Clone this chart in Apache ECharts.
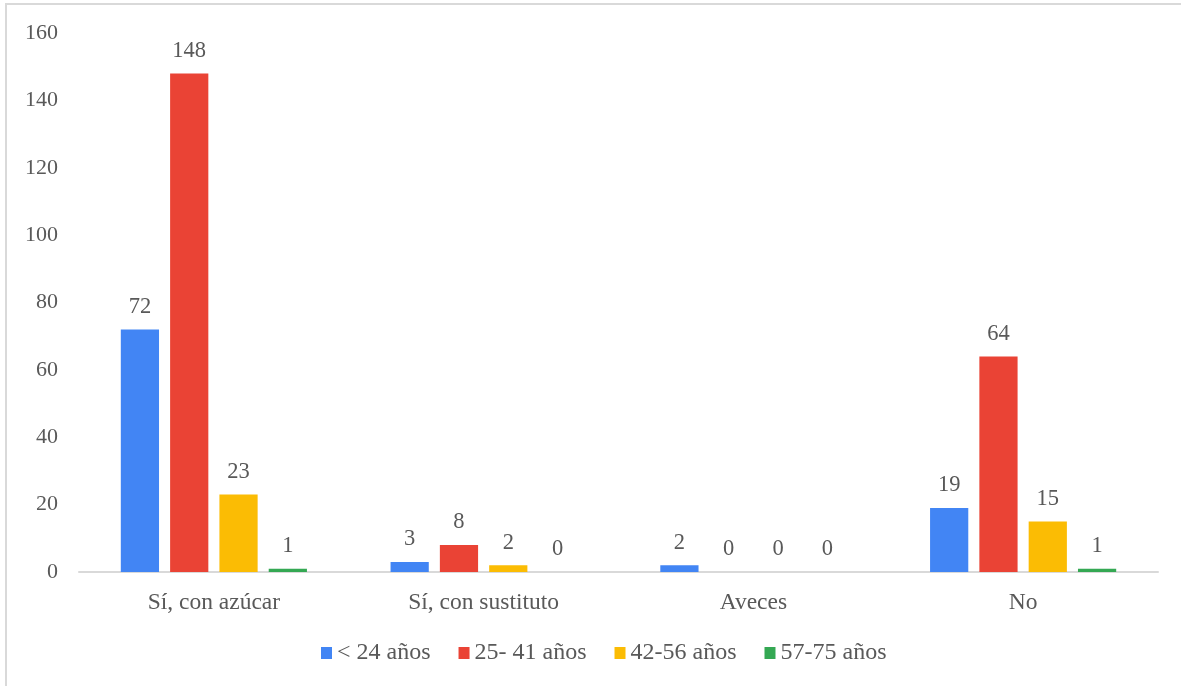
<!DOCTYPE html>
<html>
<head>
<meta charset="utf-8">
<style>
  html, body { margin: 0; padding: 0; background: #fff; }
  #chart { width: 1181px; height: 686px; }
</style>
<script src="https://cdn.jsdelivr.net/npm/echarts@6/dist/echarts.min.js"></script>
</head>
<body>
<div id="chart"></div>
<script>
// Categories and counts per age group
const categories = ['Sí, con azúcar', 'Sí, con sustituto', 'Aveces', 'No'];
const seriesNames = ['< 24 años', '25- 41 años', '42-56 años', '57-75 años'];
const under24 = [72, 3, 2, 19];
const age25to41 = [148, 8, 0, 64];
const age42to56 = [23, 2, 0, 15];
const age57to75 = [1, 0, 0, 1];
const yTicks = { min: 0, max: 160, interval: 20 };

const colors = ['#4285F4', '#EA4335', '#FBBC04', '#34A853'];
const fontFamily = '"Liberation Serif", "Times New Roman", serif';
const textColor = '#595959';

const chart = echarts.init(document.getElementById('chart'));

function makeSeries(name, data, color) {
  return {
    name: name,
    type: 'bar',
    data: data,
    barGap: '29%',
    barCategoryGap: '31%',
    itemStyle: { color: color },
    label: {
      show: true,
      position: 'top',
      distance: 11,
      color: textColor,
      fontFamily: fontFamily,
      fontSize: 22.5
    }
  };
}

chart.setOption({
  animation: false,
  backgroundColor: '#fff',
  color: colors,
  textStyle: { fontFamily: fontFamily },
  graphic: [{
    type: 'rect',
    shape: { x: 6, y: 4, width: 1200, height: 700 },
    style: { fill: 'none', stroke: '#d9d9d9', lineWidth: 2 },
    silent: true,
    z: -10
  }],
  grid: { left: 79, right: 23, top: 33, bottom: 114, containLabel: false },
  legend: {
    bottom: 16,
    left: 316,
    itemWidth: 11,
    itemHeight: 12,
    itemGap: 28,
    itemStyle: { borderWidth: 0 },
    icon: 'rect',
    textStyle: { color: textColor, fontFamily: fontFamily, fontSize: 24 },
    data: seriesNames
  },
  xAxis: {
    type: 'category',
    data: categories,
    axisLine: { lineStyle: { color: '#d9d9d9', width: 2 } },
    axisTick: { show: false },
    axisLabel: { color: textColor, fontFamily: fontFamily, fontSize: 23.5, margin: 19 }
  },
  yAxis: {
    type: 'value',
    min: yTicks.min,
    max: yTicks.max,
    interval: yTicks.interval,
    splitLine: { show: false },
    axisLine: { show: false },
    axisTick: { show: false },
    axisLabel: { color: textColor, fontFamily: fontFamily, fontSize: 22, margin: 21 }
  },
  series: [
    makeSeries(seriesNames[0], under24, colors[0]),
    makeSeries(seriesNames[1], age25to41, colors[1]),
    makeSeries(seriesNames[2], age42to56, colors[2]),
    makeSeries(seriesNames[3], age57to75, colors[3])
  ]
});
</script>
</body>
</html>
